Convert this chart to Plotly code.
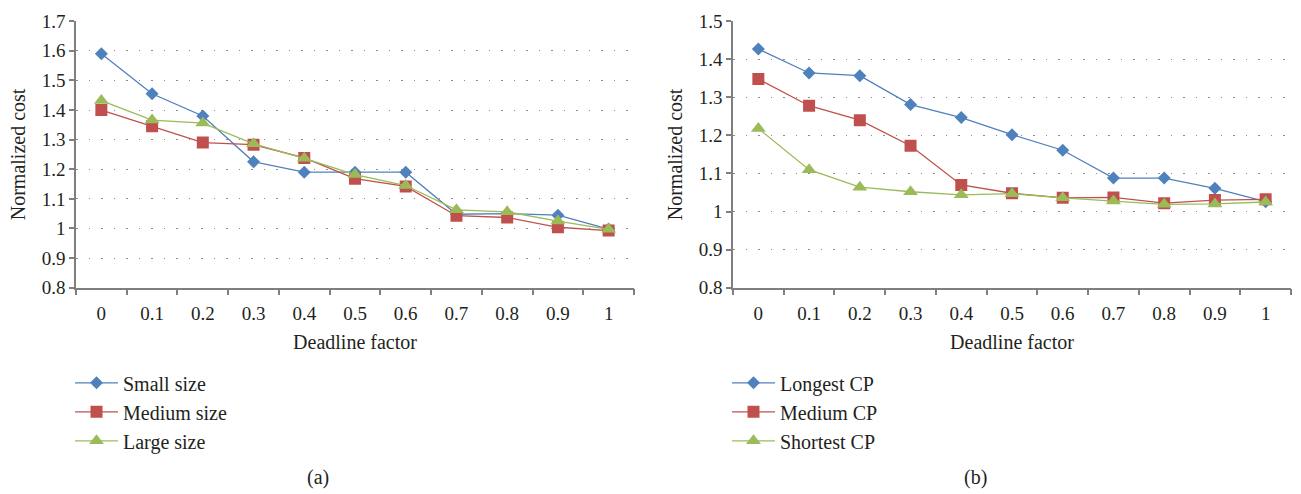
import plotly.graph_objects as go

x_labels = ["0", "0.1", "0.2", "0.3", "0.4", "0.5", "0.6", "0.7", "0.8", "0.9", "1"]

# Panel (a)
small_size = [1.590, 1.455, 1.380, 1.225, 1.190, 1.190, 1.190, 1.048, 1.050, 1.045, 0.998]
medium_size = [1.400, 1.345, 1.290, 1.283, 1.238, 1.168, 1.142, 1.043, 1.037, 1.004, 0.993]
large_size = [1.432, 1.366, 1.356, 1.286, 1.237, 1.182, 1.145, 1.063, 1.056, 1.025, 0.997]

# Panel (b)
longest_cp = [1.427, 1.364, 1.357, 1.281, 1.247, 1.202, 1.161, 1.088, 1.088, 1.061, 1.026]
medium_cp = [1.348, 1.278, 1.240, 1.173, 1.070, 1.048, 1.036, 1.037, 1.022, 1.030, 1.032]
shortest_cp = [1.218, 1.110, 1.064, 1.052, 1.044, 1.047, 1.036, 1.028, 1.019, 1.020, 1.025]

BLUE = "#4F81BD"
RED = "#C0504D"
GREEN = "#9BBB59"
FONT = "Liberation Serif"
FS = 19
FT = 20
TXT = "#231F20"
AX = "#7F7F7F"

fig = go.Figure()

def add(y, name, color, symbol, size, xa, ya, legend, grp):
    fig.add_trace(go.Scatter(
        x=x_labels, y=y, name=name, mode="lines+markers",
        line=dict(color=color, width=1.3),
        marker=dict(color=color, symbol=symbol, size=size, line=dict(width=0)),
        xaxis=xa, yaxis=ya, legend=legend, legendgroup=grp,
    ))

add(small_size, "Small size", BLUE, "diamond", 10, "x", "y", "legend", "a1")
add(medium_size, "Medium size", RED, "square", 12, "x", "y", "legend", "a2")
add(large_size, "Large size", GREEN, "triangle-up", 13, "x", "y", "legend", "a3")
add(longest_cp, "Longest CP", BLUE, "diamond", 10, "x2", "y2", "legend2", "b1")
add(medium_cp, "Medium CP", RED, "square", 12, "x2", "y2", "legend2", "b2")
add(shortest_cp, "Shortest CP", GREEN, "triangle-up", 13, "x2", "y2", "legend2", "b3")

W, H = 1301, 494
ydom = [1 - 290 / H, 1 - 11.7 / H]

xcommon = dict(
    type="category", range=[-0.5, 10.5], tickson="boundaries",
    ticks="outside", ticklen=6, tickwidth=1.5, tickcolor=AX,
    showline=True, linecolor=AX, linewidth=1.5, showgrid=False,
    ticklabelstandoff=8,
    tickfont=dict(family=FONT, size=FS, color=TXT),
    title=dict(text="Deadline factor", font=dict(family=FONT, size=FT, color=TXT), standoff=12),
    zeroline=False,
)
ycommon = dict(
    dtick=0.1, tick0=0.8, ticks="outside", ticklen=5, tickwidth=1.5, tickcolor=AX,
    showline=True, linecolor=AX, linewidth=1.5,
    showgrid=True, gridcolor="#8c8c8c", gridwidth=1, griddash="1.5px,11px",
    tickfont=dict(family=FONT, size=FS, color=TXT),
    title=dict(text="Normalized cost", font=dict(family=FONT, size=FT, color=TXT), standoff=11),
    zeroline=False,
)

legcommon = dict(
    font=dict(family=FONT, size=FT, color=TXT), bgcolor="rgba(0,0,0,0)",
    traceorder="grouped", tracegroupgap=0, xanchor="left", yanchor="top",
    itemwidth=43,
)

fig.update_layout(
    width=W, height=H, margin=dict(l=0, r=0, t=0, b=0),
    paper_bgcolor="white", plot_bgcolor="white",
    xaxis=dict(xcommon, domain=[76 / W, 634 / W], anchor="y"),
    xaxis2=dict(xcommon, domain=[733 / W, 1291 / W], anchor="y2"),
    yaxis=dict(ycommon, domain=ydom, range=[0.8, 1.7], anchor="x"),
    yaxis2=dict(ycommon, domain=ydom, range=[0.8, 1.5], anchor="x2"),
    legend=dict(legcommon, x=70 / W, y=1 - 369 / H),
    legend2=dict(legcommon, x=727 / W, y=1 - 369 / H),
    annotations=[
        dict(text="(a)", x=318 / W, y=1 - 488 / H, xref="paper", yref="paper",
             xanchor="center", yanchor="middle", showarrow=False,
             font=dict(family=FONT, size=FT, color=TXT)),
        dict(text="(b)", x=975 / W, y=1 - 488 / H, xref="paper", yref="paper",
             xanchor="center", yanchor="middle", showarrow=False,
             font=dict(family=FONT, size=FT, color=TXT)),
    ],
)

fig.write_html(
    "out.html",
    config={"displayModeBar": False},
    post_script="document.body.style.margin='0';document.body.style.overflow='hidden';",
)
